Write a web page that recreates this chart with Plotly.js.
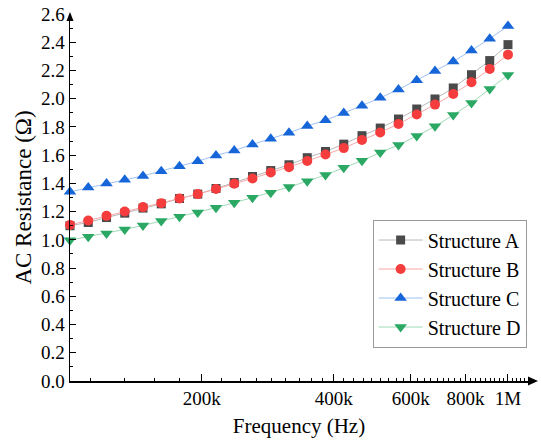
<!DOCTYPE html>
<html>
<head>
<meta charset="utf-8">
<script src="https://cdn.plot.ly/plotly-3.0.1.min.js"></script>
<style>html,body{margin:0;padding:0;background:#fff}#chart{width:541px;height:447px}</style>
</head>
<body>
<div id="chart"></div>
<script>
var freq = [100000, 110069, 121153, 133352, 146780, 161560, 177828, 195734, 215443, 237137,
            261016, 287298, 316228, 348070, 383119, 421697, 464159, 510897, 562341, 618966,
            681292, 749894, 825404, 908518, 1000000];
var structA = [1.100, 1.123, 1.158, 1.189, 1.225, 1.255, 1.293, 1.324, 1.364, 1.406,
               1.449, 1.491, 1.532, 1.582, 1.626, 1.678, 1.738, 1.792, 1.856, 1.927,
               1.998, 2.076, 2.170, 2.270, 2.383];
var structB = [1.106, 1.137, 1.170, 1.201, 1.232, 1.260, 1.293, 1.324, 1.360, 1.397,
               1.435, 1.477, 1.515, 1.558, 1.605, 1.650, 1.707, 1.761, 1.821, 1.888,
               1.958, 2.033, 2.116, 2.211, 2.312];
var structC = [1.340, 1.370, 1.400, 1.425, 1.453, 1.486, 1.522, 1.557, 1.598, 1.633,
               1.676, 1.716, 1.758, 1.806, 1.848, 1.898, 1.950, 2.006, 2.066, 2.130,
               2.196, 2.264, 2.342, 2.425, 2.515];
var structD = [0.998, 1.022, 1.045, 1.074, 1.102, 1.133, 1.164, 1.194, 1.228, 1.263,
               1.299, 1.334, 1.374, 1.416, 1.459, 1.511, 1.561, 1.618, 1.672, 1.736,
               1.804, 1.884, 1.970, 2.069, 2.168];
var seriesNames = ["Structure A", "Structure B", "Structure C", "Structure D"];
var xTickVals = [200000, 400000, 600000, 800000, 1000000];
var xTickText = ["200k", "400k", "600k", "800k", "1M"];

var xMinor = [];
for (var n = 5; n <= 50; n++) { if (n % 9 !== 0) xMinor.push(n * 200000 / 9); }

var styles = [
  {line: "#b8b8b8", marker: "#4a4a4a", symbol: "square", size: 9},
  {line: "#f7a8a8", marker: "#f53d3d", symbol: "circle", size: 10},
  {line: "#9fc1f0", marker: "#1766d9", symbol: "triangle-up", size: 11},
  {line: "#9fd9b5", marker: "#2aa864", symbol: "triangle-down", size: 11}
];
var ys = [structA, structB, structC, structD];
var traces = ys.map(function (y, k) {
  return {
    x: freq, y: y, name: seriesNames[k], type: "scatter", mode: "lines+markers",
    cliponaxis: false,
    line: {color: styles[k].line, width: 1},
    marker: {color: styles[k].marker, symbol: styles[k].symbol, size: styles[k].size,
             line: {width: 0}}
  };
});

var font = "'Liberation Serif', 'Times New Roman', serif";
var layout = {
  width: 541, height: 447,
  margin: {l: 70, r: 13, t: 14, b: 66},
  paper_bgcolor: "#fff", plot_bgcolor: "#fff",
  font: {family: font, size: 19, color: "#000"},
  showlegend: true,
  legend: {x: 0.997, xanchor: "right", y: 0.44, yanchor: "top",
           bgcolor: "#fff", bordercolor: "#999", borderwidth: 1, itemwidth: 44,
           font: {family: font, size: 20, color: "#000"}, tracegroupgap: 0},
  xaxis: {
    type: "log", range: [5, 6.0457],
    tickmode: "array", tickvals: xTickVals, ticktext: xTickText,
    ticks: "inside", ticklen: 7, tickwidth: 1, tickcolor: "#000",
    minor: {tickmode: "array", tickvals: xMinor, ticks: "inside", ticklen: 3, tickwidth: 1, tickcolor: "#000"},
    showline: true, linecolor: "#000", linewidth: 1.5,
    showgrid: false, zeroline: false,
    tickfont: {family: font, size: 19, color: "#000"},
    title: {text: "Frequency (Hz)", font: {family: font, size: 21, color: "#000"}, standoff: 10}
  },
  yaxis: {
    range: [0, 2.6], dtick: 0.2, tick0: 0, tickformat: ".1f",
    ticks: "inside", ticklen: 6, tickwidth: 1, tickcolor: "#000",
    minor: {dtick: 0.1, ticks: "inside", ticklen: 3, tickwidth: 1, tickcolor: "#000"},
    showline: true, linecolor: "#000", linewidth: 1.5,
    showgrid: false, zeroline: false,
    tickfont: {family: font, size: 19, color: "#000"},
    title: {text: "AC Resistance (Ω)", font: {family: font, size: 23, color: "#000"}, standoff: 3}
  },
  shapes: [
    {type: "path", xref: "paper", yref: "paper", xsizemode: "pixel", ysizemode: "pixel",
     xanchor: 0, yanchor: 1, path: "M-3.5,-7 L3.5,-7 L0,2 Z",
     fillcolor: "#000", line: {width: 0}},
    {type: "path", xref: "paper", yref: "paper", xsizemode: "pixel", ysizemode: "pixel",
     xanchor: 1, yanchor: 0, path: "M0,-4.5 L0,4.5 L10,0 Z",
     fillcolor: "#000", line: {width: 0}}
  ]
};
Plotly.newPlot("chart", traces, layout, {displayModeBar: false, staticPlot: true});
</script>
</body>
</html>
